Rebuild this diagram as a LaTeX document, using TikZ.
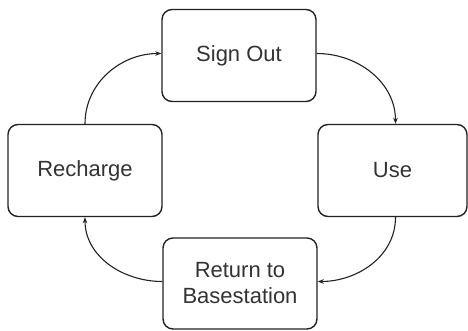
\documentclass[tikz,border=0pt]{standalone}
\usepackage{fontspec}
\setmainfont{Liberation Sans}
\usetikzlibrary{arrows.meta}
\definecolor{boxline}{HTML}{222222}
\definecolor{boxtext}{HTML}{333333}
\begin{document}
\begin{tikzpicture}[x=1pt,y=-1pt,
  stagebox/.style={draw=boxline,line width=1.4pt,rounded corners=10pt,
    minimum width=154pt,minimum height=92pt,inner sep=0pt,align=center,
    text=boxtext,font=\fontsize{22}{26}\selectfont},
  flow/.style={draw=boxline,line width=1.1pt,-{Stealth[length=6pt,width=4.5pt]}}]
\useasboundingbox (0,0) rectangle (468,331);
\node[stagebox] (sign) at (239,55.5) {Sign Out};
\node[stagebox,minimum width=149pt] (use) at (392.5,170.5) {Use};
\node[stagebox] (rech) at (85,170.5) {Recharge};
\node[stagebox,minimum height=91pt] (ret) at (240,283.5) {Return to\\Basestation};
\draw[flow] ([xshift=0pt]rech.north) to[out=90,in=180] ([yshift=2pt]sign.west);
\draw[flow] ([yshift=2pt]sign.east) to[out=0,in=90] ([xshift=3pt]use.north);
\draw[flow] ([xshift=3pt]use.south) to[out=-90,in=0] ([yshift=2pt]ret.east);
\draw[flow] ([yshift=2pt]ret.west) to[out=180,in=-90] (rech.south);
\end{tikzpicture}
\end{document}
